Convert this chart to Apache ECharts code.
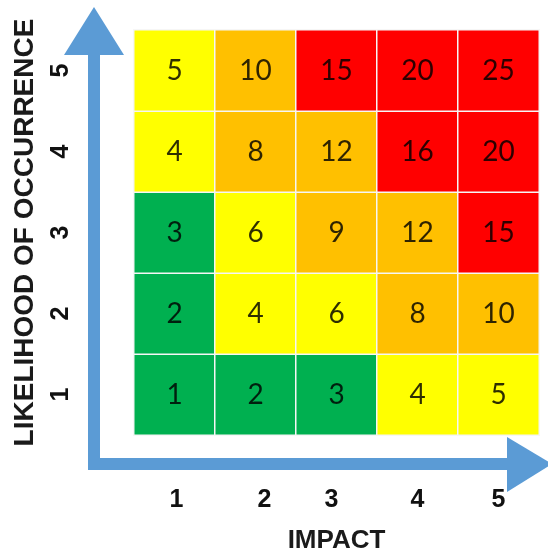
<!DOCTYPE html>
<html>
<head>
<meta charset="utf-8">
<title>Risk matrix</title>
<script src="https://cdn.jsdelivr.net/npm/echarts@6/dist/echarts.min.js"></script>
<style>
  html, body { margin: 0; padding: 0; background: #ffffff; }
  #chart { width: 548px; height: 551px; }
</style>
</head>
<body>
<div id="chart"></div>
<script>
// Axis categories
const impactLevels = ['1', '2', '3', '4', '5'];
const likelihoodLevels = ['1', '2', '3', '4', '5'];

// Risk score for each cell; rows follow likelihood 1..5, columns follow impact 1..5
const scoreRows = [
  [1, 2, 3, 4, 5],
  [2, 4, 6, 8, 10],
  [3, 6, 9, 12, 15],
  [4, 8, 12, 16, 20],
  [5, 10, 15, 20, 25]
];

// Rating bands
const bandColors = ['#00B050', '#FFFF00', '#FFC000', '#FF0000'];

const cells = [];
scoreRows.forEach(function (row, yi) {
  row.forEach(function (v, xi) {
    cells.push([xi, yi, v]);
  });
});

const arrowBlue = '#5B9BD5';
const axisFont = 'Liberation Sans, Arial, sans-serif';

// Impact labels sit a little off the column centres; nudge them with padding
const tickLabelStyle = { fontFamily: axisFont, fontWeight: 'bold', fontSize: 25, color: '#111111' };
const impactRich = {
  t0: Object.assign({ padding: [0, 0, 0, 4] }, tickLabelStyle),
  t1: Object.assign({ padding: [0, 0, 0, 18] }, tickLabelStyle),
  t2: Object.assign({ padding: [0, 10, 0, 0] }, tickLabelStyle),
  t3: Object.assign({}, tickLabelStyle),
  t4: Object.assign({}, tickLabelStyle)
};

const chart = echarts.init(document.getElementById('chart'), null, { renderer: 'canvas' });

chart.setOption({
  animation: false,
  backgroundColor: '#ffffff',
  grid: { left: 134, top: 30, width: 405, height: 405, containLabel: false, outerBoundsMode: 'none' },
  xAxis: {
    type: 'category',
    data: impactLevels,
    name: 'IMPACT',
    nameLocation: 'middle',
    nameGap: 93,
    nameTextStyle: { fontFamily: axisFont, fontWeight: 'bold', fontSize: 26, color: '#1a1a1a' },
    axisLine: { show: false },
    axisTick: { show: false },
    splitLine: { show: false },
    axisLabel: {
      margin: 53,
      formatter: function (v, i) { return '{t' + i + '|' + v + '}'; },
      rich: impactRich
    }
  },
  yAxis: {
    type: 'category',
    data: likelihoodLevels,
    name: 'LIKELIHOOD OF OCCURRENCE',
    nameLocation: 'middle',
    nameRotate: 90,
    nameGap: 95,
    nameTextStyle: { fontFamily: axisFont, fontWeight: 'bold', fontSize: 28, color: '#1a1a1a' },
    axisLine: { show: false },
    axisTick: { show: false },
    splitLine: { show: false },
    axisLabel: { rotate: 90, margin: 60, fontFamily: axisFont, fontWeight: 'bold', fontSize: 25, color: '#111111' }
  },
  visualMap: {
    show: false,
    type: 'piecewise',
    dimension: 2,
    pieces: [
      { lte: 3, color: bandColors[0] },
      { gt: 3, lte: 6, color: bandColors[1] },
      { gt: 6, lte: 12, color: bandColors[2] },
      { gt: 12, color: bandColors[3] }
    ]
  },
  series: [{
    type: 'heatmap',
    data: cells,
    itemStyle: { borderColor: '#f6f6f6', borderWidth: 1.5 },
    label: {
      show: true,
      formatter: function (p) { return String(p.value[2]); },
      fontFamily: 'Lato, Open Sans, sans-serif',
      fontSize: 28,
      color: 'rgba(0,0,0,0.82)'
    },
    emphasis: { disabled: true }
  }],
  graphic: [
    // L-shaped axis shafts
    { type: 'polygon', shape: { points: [[88, 55], [100, 55], [100, 458], [507, 458], [507, 470], [88, 470]] },
      style: { fill: arrowBlue } },
    // upward arrowhead
    { type: 'polygon', shape: { points: [[94, 7], [124, 55], [64, 55]] }, style: { fill: arrowBlue } },
    // rightward arrowhead
    { type: 'polygon', shape: { points: [[507, 437], [552, 464], [507, 492]] }, style: { fill: arrowBlue } }
  ]
});
</script>
</body>
</html>
